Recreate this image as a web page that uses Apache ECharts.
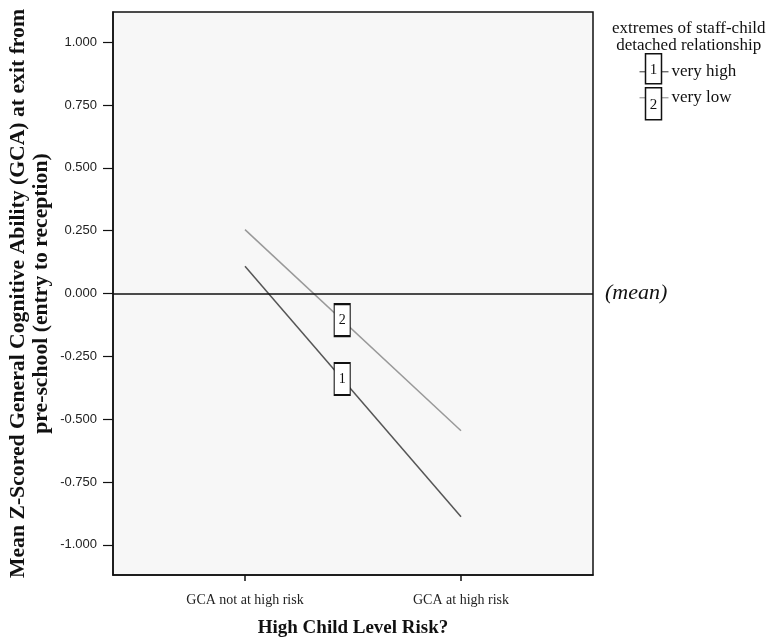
<!DOCTYPE html>
<html>
<head>
<meta charset="utf-8">
<script src="https://cdn.jsdelivr.net/npm/echarts@6/dist/echarts.min.js"></script>
<style>
  html, body { margin: 0; background: #fff; }
  #chart { width: 770px; height: 641px; }
</style>
</head>
<body>
<div id="chart"></div>
<script>
  const categories = ['GCA not at high risk', 'GCA at high risk'];
  const groupNames = ['very high', 'very low'];
  const groupTags = ['1', '2'];
  const veryHigh = [0.108, -0.888];
  const veryLow = [0.254, -0.546];
  const yTicks = [-1, -0.75, -0.5, -0.25, 0, 0.25, 0.5, 0.75, 1];

  const serif = '"Liberation Serif", "DejaVu Serif", serif';
  const sans = '"Liberation Sans", Arial, sans-serif';
  const lineColors = ['#555', '#999'];

  // tag box sits part way along each line, like SPSS does it
  function lineSeries(name, tag, values, color, extra) {
    const t = 0.45;
    const mid = values[0] + (values[1] - values[0]) * t;
    return Object.assign({
      type: 'line',
      name: name,
      data: values.map((v, i) => [i, v]),
      symbol: 'none',
      silent: true,
      lineStyle: { color: color, width: 1.5 },
      markPoint: {
        symbol: 'rect',
        symbolSize: [16, 32],
        data: [{ coord: [t, mid] }],
        itemStyle: { color: '#fff', borderColor: '#111', borderWidth: 1.5 },
        label: { show: true, formatter: tag, color: '#111', fontFamily: serif, fontSize: 14 }
      }
    }, extra || {});
  }

  // legend drawn by hand: box with tag number, stub of the line, then the name
  function legendItem(i, boxTop, boxH, stubY) {
    return {
      type: 'group',
      left: 637,
      top: boxTop,
      children: [
        { type: 'line', shape: { x1: 0, y1: stubY, x2: 29, y2: stubY }, style: { stroke: lineColors[i], lineWidth: 1.2 } },
        { type: 'rect', shape: { x: 6, y: 0, width: 16, height: boxH }, style: { fill: '#fff', stroke: '#111', lineWidth: 1.5 } },
        { type: 'text', x: 14, y: boxH / 2 + 1, style: { text: groupTags[i], fill: '#111', font: '15px ' + serif, align: 'center', verticalAlign: 'middle' } },
        { type: 'text', x: 32, y: stubY, style: { text: groupNames[i], fill: '#111', font: '17px ' + serif, verticalAlign: 'middle' } }
      ]
    };
  }

  const chart = echarts.init(document.getElementById('chart'));
  chart.setOption({
    animation: false,
    backgroundColor: '#fff',
    grid: {
      left: 113,
      right: 177,
      top: 12,
      bottom: 66,
      outerBoundsMode: 'none',
      show: true,
      backgroundColor: '#f7f7f7',
      borderColor: '#111',
      borderWidth: 1.5
    },
    xAxis: {
      type: 'value',
      min: -0.611,
      max: 1.611,
      name: 'High Child Level Risk?',
      nameLocation: 'middle',
      nameGap: 44,
      nameMoveOverlap: false,
      nameTextStyle: { fontFamily: serif, fontSize: 19, fontWeight: 'bold', color: '#111' },
      axisLine: { show: true, onZero: false, lineStyle: { color: '#111', width: 1.5 } },
      axisTick: { show: true, customValues: [0, 1], length: 6, lineStyle: { color: '#111', width: 1.5 } },
      axisLabel: {
        customValues: [0, 1],
        formatter: (v) => categories[Math.round(v)],
        fontFamily: serif,
        fontSize: 14,
        color: '#222',
        margin: 18
      },
      splitLine: { show: false }
    },
    yAxis: {
      type: 'value',
      min: -1.12,
      max: 1.12,
      name: 'Mean Z-Scored General Cognitive Ability (GCA) at exit from\npre-school (entry to reception)',
      nameLocation: 'middle',
      nameRotate: 90,
      nameGap: 60,
      nameMoveOverlap: false,
      nameTextStyle: { fontFamily: serif, fontSize: 21.7, fontWeight: 'bold', color: '#111', lineHeight: 23 },
      axisLine: { show: true, onZero: false, lineStyle: { color: '#111', width: 1.5 } },
      axisTick: { show: true, customValues: yTicks, length: 10, lineStyle: { color: '#111', width: 1.2 } },
      axisLabel: {
        customValues: yTicks,
        formatter: (v) => v.toFixed(3),
        fontFamily: sans,
        fontSize: 13,
        color: '#222',
        margin: 16
      },
      splitLine: { show: false }
    },
    series: [
      lineSeries(groupNames[0], groupTags[0], veryHigh, lineColors[0], {
        markLine: {
          silent: true,
          symbol: 'none',
          lineStyle: { color: '#111', width: 1.5, type: 'solid' },
          label: { position: 'end', formatter: '(mean)', fontStyle: 'italic', fontFamily: serif, fontSize: 22, color: '#111', distance: 12 },
          data: [{ yAxis: 0 }]
        }
      }),
      lineSeries(groupNames[1], groupTags[1], veryLow, lineColors[1])
    ],
    graphic: [
      {
        type: 'text',
        left: 612,
        top: 20,
        style: {
          text: 'extremes of staff-child\n detached relationship',
          fill: '#111',
          font: '17px ' + serif,
          lineHeight: 17
        }
      },
      legendItem(0, 53, 30, 18),
      legendItem(1, 87, 32, 10)
    ]
  });
</script>
</body>
</html>
